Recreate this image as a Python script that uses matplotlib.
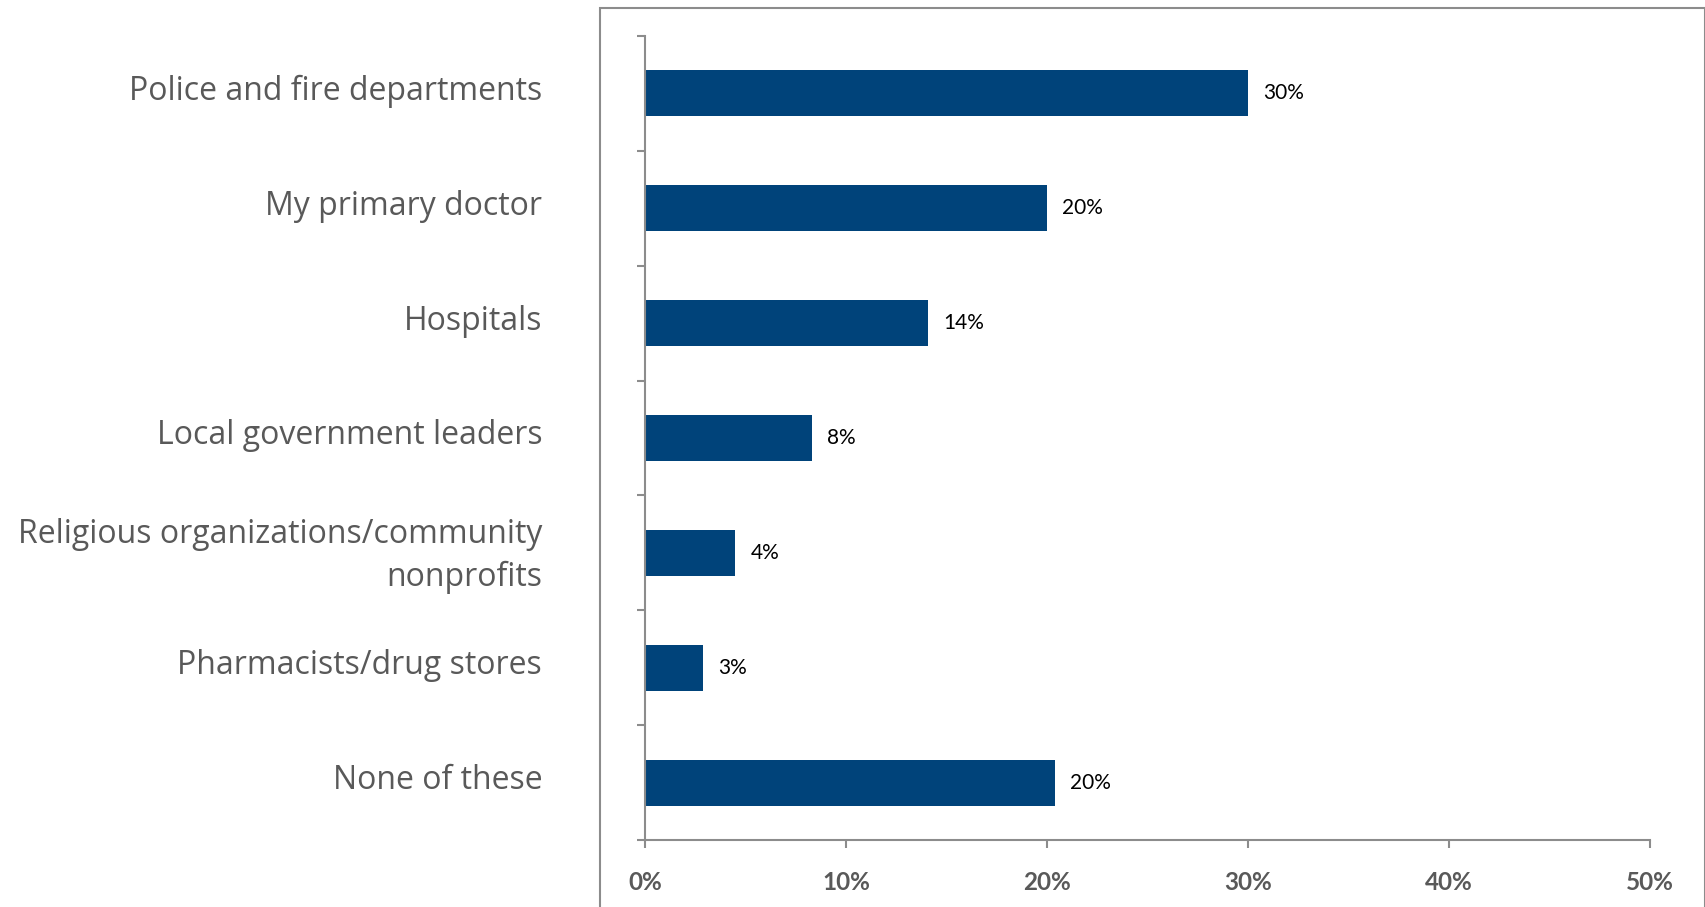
import matplotlib
matplotlib.use("Agg")
import matplotlib.pyplot as plt
import matplotlib.transforms as mtransforms
from matplotlib.patches import Rectangle

# survey data
categories = ["Police and fire departments",
              "My primary doctor",
              "Hospitals",
              "Local government leaders",
              "Religious organizations/community\nnonprofits",
              "Pharmacists/drug stores",
              "None of these"]
values = [30.0, 20.0, 14.1, 8.3, 4.5, 2.9, 20.4]
value_labels = ["30%", "20%", "14%", "8%", "4%", "3%", "20%"]
xticks = [0, 10, 20, 30, 40, 50]
xtick_labels = ["0%", "10%", "20%", "30%", "40%", "50%"]

bar_color = "#00437A"
grey = "#595959"
line_grey = "#8C8C8C"

plt.rcParams["font.family"] = ["Lato", "DejaVu Sans"]

fig = plt.figure(figsize=(17.06, 9.07), dpi=100)
ax = fig.add_axes([645/1706, 67/907, 1005/1706, 804/907])

ypos = list(range(len(categories)))
ax.barh(ypos, values, height=0.4, color=bar_color)

for y, v, lab in zip(ypos, values, value_labels):
    ax.annotate(lab, (v, y), xytext=(11, 0), textcoords="offset points",
                va="center", ha="left", fontsize=15, color="black")

ax.set_xlim(0, 50)
ax.set_ylim(len(categories) - 0.5, -0.5)

ax.set_xticks(xticks)
ax.set_xticklabels(xtick_labels, fontsize=17.5, fontweight="bold", color=grey)
ax.tick_params(axis="x", length=6, width=1.5, color=line_grey, pad=16)

ax.set_yticks([i - 0.5 for i in range(len(categories) + 1)])
ax.set_yticklabels([])
ax.tick_params(axis="y", which="major", length=6, width=1.5, color=line_grey)
ax.set_yticks(ypos, minor=True)
ax.set_yticklabels(categories, minor=True, fontsize=23, color=grey,
                   linespacing=1.4, family=["Open Sans", "DejaVu Sans"])
ax.tick_params(axis="y", which="minor", length=0, pad=74)
shift = mtransforms.ScaledTranslation(0, 6/100, fig.dpi_scale_trans)
for t in ax.get_yticklabels(minor=True):
    t.set_transform(t.get_transform() + shift)

for s in ["top", "right"]:
    ax.spines[s].set_visible(False)
for s in ["left", "bottom"]:
    ax.spines[s].set_color(line_grey)
    ax.spines[s].set_linewidth(1.5)

# outer chart frame, partly cut off by the picture edge
frame = Rectangle((599.5/1706, -0.05), (1705 - 599.5)/1706, 1.05 - 8/907,
                  transform=fig.transFigure, fill=False, edgecolor=line_grey,
                  linewidth=1.5, clip_on=False)
fig.patches.append(frame)

fig.savefig("out.png", dpi=100)
